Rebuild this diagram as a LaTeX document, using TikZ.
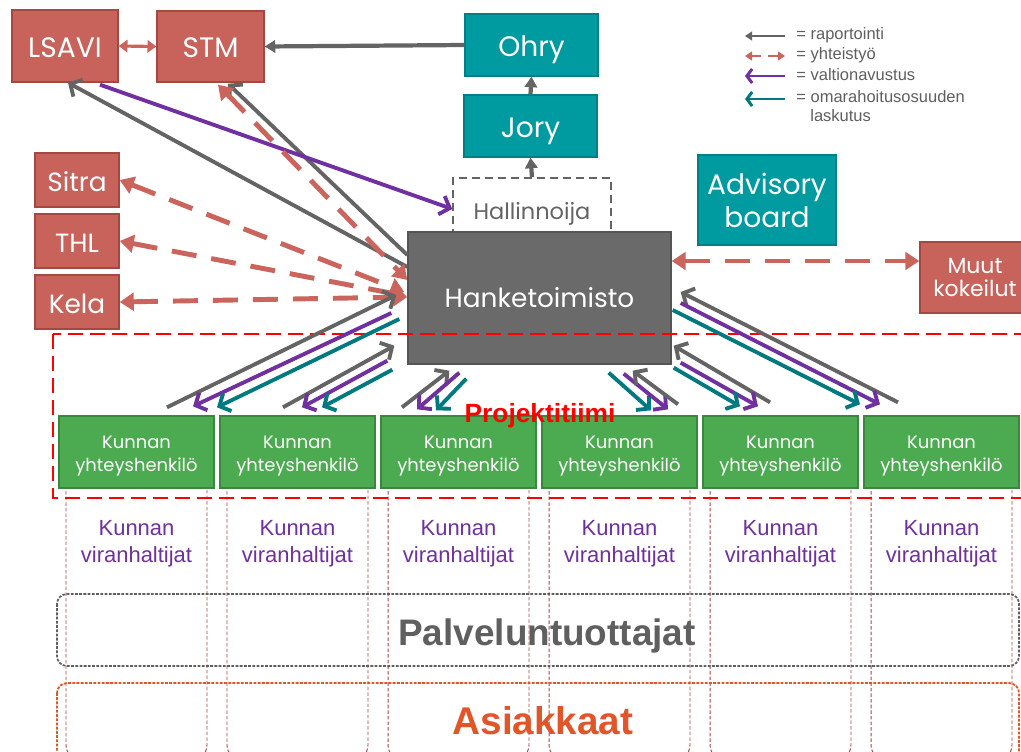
\documentclass[tikz,border=0pt]{standalone}
\usepackage{fontspec}
\setmainfont{Poppins}
\newfontfamily\arialfont{Liberation Sans}
\usetikzlibrary{arrows.meta,calc}

\definecolor{boxred}{RGB}{200,99,91}
\definecolor{boxredline}{RGB}{165,72,66}
\definecolor{boxteal}{RGB}{0,155,160}
\definecolor{boxtealline}{RGB}{0,128,132}
\definecolor{boxgreen}{RGB}{76,170,80}
\definecolor{boxgreenline}{RGB}{58,135,62}
\definecolor{hankegray}{RGB}{106,106,106}
\definecolor{hankeline}{RGB}{85,85,85}
\definecolor{arrowgray}{RGB}{100,100,100}
\definecolor{arrowred}{RGB}{202,100,92}
\definecolor{arrowpurple}{RGB}{112,48,160}
\definecolor{arrowteal}{RGB}{0,122,126}
\definecolor{colred}{RGB}{170,70,66}
\definecolor{tiimired}{RGB}{255,0,0}
\definecolor{palvgray}{RGB}{95,95,95}
\definecolor{asiakasorange}{RGB}{226,85,40}

\begin{document}
\begin{tikzpicture}[x=0.02cm,y=-0.02cm,
  redbox/.style={draw=boxredline,fill=boxred,text=white,line width=0.8pt,inner sep=0pt,align=center},
  tealbox/.style={draw=boxtealline,fill=boxteal,text=white,line width=0.8pt,inner sep=0pt,align=center},
  greenbox/.style={draw=boxgreenline,fill=boxgreen,line width=0.8pt,inner sep=0pt,
    minimum width=3.1cm,minimum height=1.44cm},
  colbox/.style={draw=colred,line width=0.55pt,dash pattern=on 2pt off 1.2pt,rounded corners=0.3cm,
    minimum width=2.82cm,minimum height=5.8cm},
  rep/.style={draw=arrowgray,line width=2.2pt,-{Straight Barb[length=5pt,width=11pt]}},
  repfill/.style={draw=arrowgray,line width=2.4pt,-{Triangle[length=6pt,width=7pt]}},
  grant/.style={draw=arrowpurple,line width=2.2pt,-{Straight Barb[length=5pt,width=11pt]}},
  billing/.style={draw=arrowteal,line width=2.2pt,-{Straight Barb[length=5pt,width=11pt]}},
  coop/.style={draw=arrowred,line width=2.8pt,dash pattern=on 0.5cm off 0.3cm,
    {Triangle[length=8pt,width=10pt]}-{Triangle[length=8pt,width=10pt]}},
  legtext/.style={anchor=west,inner sep=0pt,text=palvgray,font=\arialfont\fontsize{9.4}{11}\selectfont},
]
\useasboundingbox (0,0) rectangle (1021,751);
\fill[white] (0,0) rectangle (1021,751);

% kunnat: sarakkeet
\foreach \i in {1,...,6} {
  \node[colbox] (col\i) at ({136.5+161*(\i-1)},615) {};
  \node[text=arrowpurple,align=center,font=\arialfont\fontsize{12.5}{15.3}\selectfont]
    (vh\i) at ({136.5+161*(\i-1)},544) {Kunnan\\viranhaltijat};
}

% palveluntuottajat ja asiakkaat
\draw[palvgray,line width=1pt,dash pattern=on 1.6pt off 0.8pt,rounded corners=0.2cm]
  (57,594) rectangle (1019,666);
\node[text=palvgray,font=\arialfont\bfseries\fontsize{21}{24}\selectfont] (palv) at (547,636) {Palveluntuottajat};
\draw[asiakasorange,line width=1pt,dash pattern=on 1.6pt off 0.8pt,rounded corners=0.2cm]
  (57,683) rectangle (1019,800);
\node[text=asiakasorange,font=\arialfont\bfseries\fontsize{22}{25}\selectfont] (asiak) at (543,721) {Asiakkaat};

% ylarivi
\node[redbox,minimum width=2.12cm,minimum height=1.44cm,text height=13.6pt,text depth=0pt,font=\fontsize{16}{19}\selectfont] (lsavi) at (65,46) {LSAVI};
\node[redbox,minimum width=2.14cm,minimum height=1.42cm,text height=13pt,text depth=0pt,font=\fontsize{16}{19}\selectfont] (stm) at (210.5,46.5) {STM};
\node[tealbox,minimum width=2.66cm,minimum height=1.24cm,text height=13.6pt,text depth=0pt,font=\fontsize{16}{19}\selectfont] (ohry) at (531.5,45) {Ohry};
\node[tealbox,minimum width=2.66cm,minimum height=1.24cm,text height=13.6pt,text depth=0pt,font=\fontsize{16}{19}\selectfont] (jory) at (530.5,126) {Jory};
\node[tealbox,minimum width=2.76cm,minimum height=1.8cm,font=\fontsize{16}{18.7}\selectfont] (adv) at (767,200) {Advisory\\board};

\node[redbox,minimum width=1.68cm,minimum height=1.08cm,text height=13.6pt,text depth=0pt,font=\fontsize{15}{18}\selectfont] (sitra) at (77,180) {Sitra};
\node[redbox,minimum width=1.68cm,minimum height=1.08cm,text height=13.6pt,text depth=0pt,font=\fontsize{15}{18}\selectfont] (thl) at (77,241) {THL};
\node[redbox,minimum width=1.68cm,minimum height=1.08cm,text height=13.6pt,text depth=0pt,font=\fontsize{15}{18}\selectfont] (kela) at (77,302) {Kela};
\node[redbox,minimum width=2.2cm,minimum height=1.42cm,font=\fontsize{12.5}{13.6}\selectfont] (muut) at (975,277.5) {Muut\\kokeilut};

\node[draw=arrowgray,dash pattern=on 0.16cm off 0.1cm,line width=0.9pt,text=arrowgray,
  minimum width=3.16cm,minimum height=1.24cm,text height=12.5pt,text depth=0pt,font=\fontsize{12.8}{15}\selectfont] (hall) at (532,209) {Hallinnoija};
\node[draw=hankeline,fill=hankegray,text=white,line width=0.8pt,
  minimum width=5.26cm,minimum height=2.64cm,text height=11.3pt,text depth=0pt,font=\fontsize{15}{17}\selectfont] (hanke) at (539.5,298) {Hanketoimisto};

% projektitiimi
\draw[tiimired,line width=1.1pt,dash pattern=on 0.3cm off 0.14cm] (53,334) rectangle (1026,498);
\foreach \i in {1,...,6} {
  \node[greenbox] (g\i) at ({136.5+161*(\i-1)},452) {};
  \node[text=white,align=center,font=\fontsize{10.2}{13}\selectfont] (gt\i) at ({136.5+161*(\i-1)},456) {Kunnan\\yhteyshenkilö};
}

% raportointi ylos
\draw[repfill] (ohry.west) -- (stm.east);
\draw[repfill] (jory.north) -- (ohry.south);
\draw[repfill] (hall.north) -- (jory.south);
\draw[rep] ($(hanke.west)+(0,-31)$) -- ($(lsavi.south)+(3,0)$);
\draw[rep] ($(hanke.west)+(0,-43)$) -- ($(stm.south)+(17.5,1)$);
\draw[grant] ($(lsavi.south)+(35,2)$) -- (hall.west);

% yhteistyo
\draw[arrowred,line width=1.8pt,{Triangle[length=5pt,width=7pt]}-{Triangle[length=5pt,width=7pt]}] (lsavi.east) -- (stm.west);
\draw[coop] ($(stm.south)+(7.5,2)$) -- ($(hanke.west)+(0,-18)$);
\draw[coop] (sitra.east) -- ($(hanke.west)+(-3,-6)$);
\draw[coop] (thl.east) -- ($(hanke.west)+(-1,-2)$);
\draw[coop] (kela.east) -- ($(hanke.west)+(0,-1)$);
\draw[coop] ($(hanke.east)+(0,-37)$) -- ($(muut.west)+(0,-16.5)$);

% kunnat <-> hanketoimisto
\draw[rep] ($(g1.north)+(30.5,-8)$) -- ($(hanke.west)+(-11,-3)$);
\draw[grant] ($(hanke.west)+(-16,15)$) -- ($(g1.north)+(56.5,-9)$);
\draw[billing] ($(hanke.west)+(-8,21)$) -- ($(g1.north)+(80.5,-8)$);
\draw[rep] ($(g2.north)+(-14.5,-8)$) -- ($(hanke.south west)+(-13,-19)$);
\draw[grant] ($(hanke.south west)+(-20,-4)$) -- ($(g2.north)+(4.5,-8)$);
\draw[billing] ($(hanke.south west)+(-15,5)$) -- ($(g2.north)+(24.5,-8)$);
\draw[rep] ($(g3.north)+(-56.5,-8)$) -- ($(hanke.south west)+(42,6)$);
\draw[grant] ($(hanke.south west)+(52,8)$) -- ($(g3.north)+(-41.5,-6)$);
\draw[billing] ($(hanke.south west)+(59,14)$) -- ($(g3.north)+(-22.5,-5)$);
\draw[billing] ($(hanke.south east)+(-63,8)$) -- ($(g4.north)+(31.5,-5)$);
\draw[grant] ($(hanke.south east)+(-48,9)$) -- ($(g4.north)+(48.5,-6)$);
\draw[rep] ($(g4.north)+(58.5,-11)$) -- ($(hanke.south east)+(-39,6)$);
\draw[rep] ($(g5.north)+(-10.5,-13)$) -- ($(hanke.south east)+(2,-19)$);
\draw[grant] ($(hanke.south east)+(9,-2)$) -- ($(g5.north)+(-22.5,-9)$);
\draw[billing] ($(hanke.south east)+(2,3)$) -- ($(g5.north)+(-40.5,-9)$);
\draw[rep] ($(g6.north)+(-43.5,-13)$) -- ($(hanke.east)+(9,-6)$);
\draw[grant] ($(hanke.east)+(9,5)$) -- ($(g6.north)+(-61.5,-11)$);
\draw[billing] ($(hanke.east)+(1,12)$) -- ($(g6.north)+(-81.5,-11)$);

\node[text=tiimired,font=\arialfont\bfseries\fontsize{15}{18}\selectfont] (tiimi) at (540,416) {Projektitiimi};

% selite
\node[legtext] (leg1) at (796,35) {= raportointi};
\node[legtext] (leg2) at (796,55) {= yhteistyö};
\node[legtext] (leg3) at (796,75) {= valtionavustus};
\node[legtext] (leg4) at (796,97) {= omarahoitusosuuden};
\node[legtext] (leg5) at (810,116) {laskutus};
\draw[arrowgray,line width=1.7pt,-{Triangle[length=4pt,width=5pt]}] ($(leg1.west)+(-11,1)$) -- ($(leg1.west)+(-51,1)$);
\draw[arrowred,line width=1.7pt,dash pattern=on 6pt off 4pt,{Triangle[length=4pt,width=5pt]}-{Triangle[length=4pt,width=5pt]}] ($(leg2.west)+(-11,1)$) -- ($(leg2.west)+(-51,1)$);
\draw[arrowpurple,line width=1.7pt,-{Straight Barb[length=3pt,width=8pt]}] ($(leg3.west)+(-11,1)$) -- ($(leg3.west)+(-51,1)$);
\draw[arrowteal,line width=1.7pt,-{Straight Barb[length=3pt,width=8pt]}] ($(leg4.west)+(-11,2)$) -- ($(leg4.west)+(-51,2)$);
\end{tikzpicture}
\end{document}
